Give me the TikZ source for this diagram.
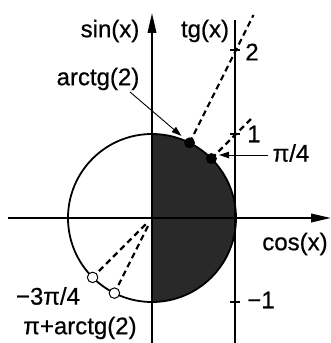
\documentclass[tikz,border=0pt]{standalone}
\usepackage{fontspec}
\setmainfont[FakeBold=0.6]{Liberation Sans}
\usetikzlibrary{arrows.meta}
\begin{document}
\begin{tikzpicture}[x=1pt,y=1pt,
  lbl/.style={inner sep=0pt, font=\fontsize{24}{28}\selectfont},
  axisline/.style={line width=2pt, -{Triangle[length=20pt,width=8.5pt]}},
  dash line/.style={line width=2.2pt, dash pattern=on 6pt off 4pt},
  bdot/.style={circle, fill=black, inner sep=0pt, minimum size=11pt},
  wdot/.style={circle, draw=black, fill=white, line width=1pt, inner sep=0pt, minimum size=10.5pt},
  ptr/.style={line width=0.9pt, -{Triangle[length=10pt,width=6.5pt]}},
  tick/.style={line width=1.1pt}]
\useasboundingbox (-152,-125) rectangle (179,218);
\def\R{84}
% shaded right half disk
\fill[black!84] (0,-\R) arc[start angle=-90,end angle=90,radius=\R] -- cycle;
% circle
\draw[line width=1.8pt] (0,0) circle[radius=\R];
% axes
\coordinate (O) at (0,0);
\coordinate (xl) at (-144,0);
\coordinate (xr) at (179,0);
\coordinate (yb) at (0,-125);
\coordinate (yt) at (0,205);
\draw[axisline] (xl) -- (xr);
\draw[axisline] (yb) -- (yt);
% tangent line
\coordinate (tb) at (83,-125);
\coordinate (tt) at (83,198);
\draw[line width=1.6pt] (tb) -- (tt);
% ticks
\coordinate (t2) at (83,168);
\coordinate (t1) at (83,84);
\coordinate (tm1) at (83,-84);
\draw[tick] ([xshift=-5pt]t2) -- ([xshift=5pt]t2);
\draw[tick] ([xshift=-5pt]t1) -- ([xshift=5pt]t1);
\draw[tick] ([xshift=-5pt]tm1) -- ([xshift=5pt]tm1);
% points
\coordinate (A) at (63.43:\R);
\coordinate (B) at (45:\R);
\coordinate (C) at (-135:\R);
\coordinate (D) at (243.43:\R);
\coordinate (Ae) at (101.5,203);
\coordinate (Be) at (100,100);
\coordinate (Cs) at (-135:9);
\coordinate (Ds) at (243.43:9);
% dashed rays
\draw[dash line] (A) -- (Ae);
\draw[dash line] (B) -- (Be);
\draw[dash line] (Cs) -- (C);
\draw[dash line] (Ds) -- (D);
\node[bdot] (nA) at (A) {};
\node[bdot] (nB) at (B) {};
\node[wdot] (nC) at (C) {};
\node[wdot] (nD) at (D) {};
% labels
\node[lbl] (sin) at (-42,187) {sin(x)};
\node[lbl] (tg) at (53,187) {tg(x)};
\node[lbl] (two) at (100,166) {2};
\node[lbl] (one) at (102,84) {1};
\node[lbl] (mone) at (109,-82) {−1};
\node[lbl] (cos) at (143,-26) {cos(x)};
\node[lbl] (arctg) at (-54,139) {arctg(2)};
\node[lbl] (pi4) at (139,65) {π/4};
\node[lbl] (m34) at (-104,-78) {−3π/4};
\node[lbl] (parc) at (-72,-110) {π+arctg(2)};
% pointers
\coordinate (a1) at (-22,126);
\coordinate (b1) at (116,63);
\draw[ptr, shorten >=5pt] (a1) -- (nA);
\draw[ptr, shorten >=2pt] (b1) -- (nB.east |- b1);
\end{tikzpicture}
\end{document}
